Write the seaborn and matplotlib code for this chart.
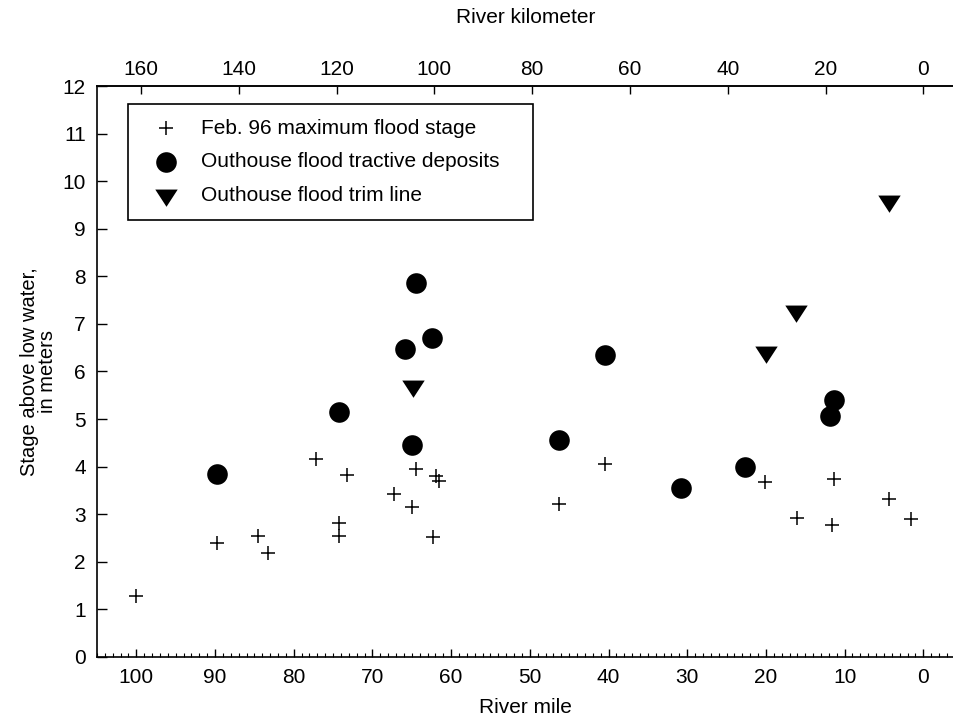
import numpy as np
import pandas as pd
import matplotlib
matplotlib.use("Agg")
import matplotlib.pyplot as plt
from matplotlib.ticker import MultipleLocator
import seaborn as sns

# Feb. 96 maximum flood stage (river mile, stage in m)
stage_mile = [100.0, 89.8, 84.5, 83.3, 77.2, 74.3, 74.3, 73.2, 67.3, 65.0, 64.5,
              62.3, 61.9, 61.5, 46.3, 40.4, 20.1, 16.1, 11.3, 11.6, 4.3, 1.6]
stage_m = [1.28, 2.39, 2.54, 2.18, 4.16, 2.81, 2.54, 3.82, 3.42, 3.15, 3.95,
           2.53, 3.80, 3.69, 3.21, 4.06, 3.68, 2.92, 3.74, 2.77, 3.32, 2.89]

# Outhouse flood tractive deposits
deposit_mile = [89.8, 74.2, 65.9, 65.0, 64.5, 62.4, 46.3, 40.5, 30.8, 22.7, 11.9, 11.3]
deposit_m = [3.85, 5.15, 6.48, 4.46, 7.86, 6.70, 4.56, 6.34, 3.55, 3.99, 5.07, 5.40]

# Outhouse flood trim line
trim_mile = [64.9, 20.0, 16.2, 4.3]
trim_m = [5.68, 6.38, 7.25, 9.56]

KM_PER_MILE = 1.609344
FS = 15

sns.set_style("ticks")
plt.rcParams["font.family"] = ["Liberation Sans", "DejaVu Sans"]
plt.rcParams["font.size"] = FS
plt.rcParams["text.color"] = "black"
plt.rcParams["axes.labelcolor"] = "black"
plt.rcParams["xtick.color"] = "black"
plt.rcParams["ytick.color"] = "black"

fig = plt.figure(figsize=(9.54, 7.21), dpi=100)
ax = fig.add_axes([0.1017, 0.0888, 0.8983, 0.7919])

# wider-than-tall downward triangle
tri = [(-1.0, 0.62), (1.0, 0.62), (0.0, -0.92), (-1.0, 0.62)]

sns.scatterplot(x=stage_mile, y=stage_m, marker="+", s=100, color="black",
                linewidth=1.1, ax=ax, label="Feb. 96 maximum flood stage")
sns.scatterplot(x=deposit_mile, y=deposit_m, marker="o", s=220, color="black",
                edgecolor="black", linewidth=0, ax=ax,
                label="Outhouse flood tractive deposits")
sns.scatterplot(x=trim_mile, y=trim_m, marker=tri, s=260, color="black",
                edgecolor="black", linewidth=0, ax=ax,
                label="Outhouse flood trim line")

ax.set_xlim(105, -3.9)
ax.set_ylim(0, 12)
ax.xaxis.set_major_locator(MultipleLocator(10))
ax.xaxis.set_minor_locator(MultipleLocator(1))
ax.yaxis.set_major_locator(MultipleLocator(1))
ax.tick_params(axis="both", which="major", direction="in", length=6,
               width=1, colors="black", labelsize=FS, pad=8)
ax.tick_params(axis="x", which="minor", direction="in", length=3, width=0.8)
ax.tick_params(axis="y", which="major", length=7, pad=8)
for side in ["left", "bottom", "top"]:
    ax.spines[side].set_linewidth(1.2)
    ax.spines[side].set_color("black")
ax.spines["right"].set_visible(False)

ax.set_xlabel("River mile", fontsize=FS, labelpad=8)
ax.set_ylabel("Stage above low water,\nin meters", fontsize=14.5,
              labelpad=4, linespacing=0.95)

top = ax.secondary_xaxis("top", functions=(lambda m: m * KM_PER_MILE,
                                           lambda k: k / KM_PER_MILE))
top.set_xticks(np.arange(0, 161, 20))
top.tick_params(direction="in", length=6, width=1, colors="black",
                labelsize=FS, pad=5)
top.spines["top"].set_linewidth(1.2)
top.set_xlabel("River kilometer", fontsize=FS, labelpad=27)

leg = ax.legend(loc="upper left", bbox_to_anchor=(0.0365, 0.0, 0.4726, 0.968),
                mode="expand", frameon=True,
                fancybox=False, edgecolor="black", fontsize=FS,
                borderpad=0.7, labelspacing=0.7, handletextpad=0.6,
                borderaxespad=0, framealpha=1, handlelength=2.2)
leg.get_frame().set_linewidth(1.2)

fig.savefig("out.png", dpi=100)
